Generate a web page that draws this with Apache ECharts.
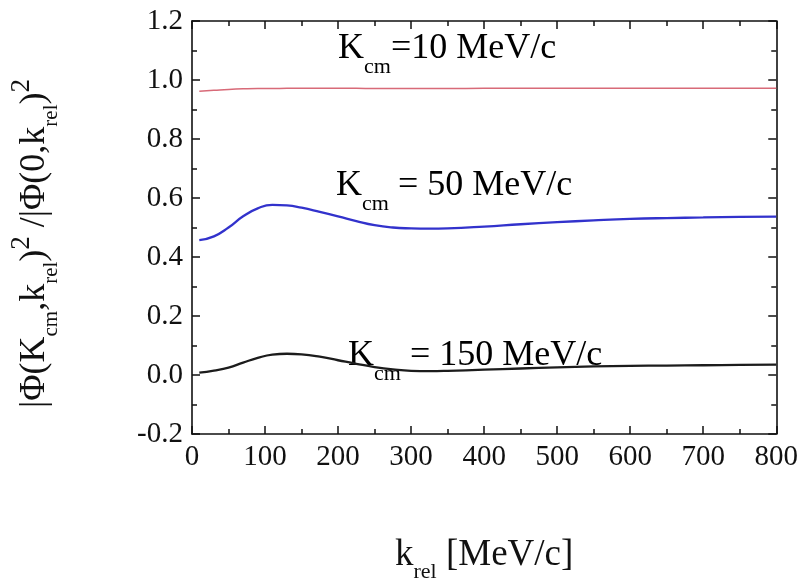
<!DOCTYPE html>
<html>
<head>
<meta charset="utf-8">
<script src="https://cdn.jsdelivr.net/npm/echarts@6/dist/echarts.min.js"></script>
<style>
  html, body { margin: 0; padding: 0; background: #fff; overflow: hidden; }
  #chart { width: 801px; height: 588px; }
</style>
</head>
<body>
<div id="chart"></div>
<script>
// relative momentum k_rel [MeV/c]
const kRel = [10, 30, 50, 70, 90, 110, 130, 150, 175, 200, 225, 250, 275, 300, 325, 350, 400, 450, 500, 550, 600, 650, 700, 750, 800];
// |Phi(K_cm,k_rel)|^2 / |Phi(0,k_rel)|^2 for three centre-of-mass momenta
const ratioK10 = [0.962, 0.965, 0.968, 0.970, 0.971, 0.971, 0.972, 0.972, 0.972, 0.972, 0.972, 0.971, 0.971, 0.971, 0.971, 0.971, 0.972, 0.972, 0.972, 0.972, 0.972, 0.972, 0.972, 0.972, 0.972];
const ratioK50 = [0.457, 0.470, 0.500, 0.538, 0.565, 0.577, 0.575, 0.567, 0.553, 0.538, 0.522, 0.508, 0.500, 0.497, 0.496, 0.497, 0.503, 0.511, 0.518, 0.524, 0.529, 0.532, 0.534, 0.536, 0.537];
const ratioK150 = [0.008, 0.015, 0.025, 0.042, 0.058, 0.069, 0.072, 0.070, 0.062, 0.050, 0.038, 0.027, 0.019, 0.014, 0.013, 0.014, 0.018, 0.022, 0.026, 0.029, 0.031, 0.032, 0.033, 0.034, 0.035];
// curve labels: [main, subscript, rest]
const curveLabels = [
  ['K', 'cm', '=10 MeV/c'],
  ['K', 'cm', ' = 50 MeV/c'],
  ['K', 'cm', ' = 150 MeV/c']
];

const serif = 'Liberation Serif';
const ink = '#111';
const chart = echarts.init(document.getElementById('chart'));

function pairs(ys) { return kRel.map((k, i) => [k, ys[i]]); }

function txt(size, lineHeight, align) {
  return { fontFamily: serif, fontSize: size, color: ink, lineHeight: lineHeight, verticalAlign: align };
}

const frameLine = { show: true, onZero: false, lineStyle: { color: ink, width: 1.6 } };
const tickIn = { show: true, inside: true, length: 8, lineStyle: { color: ink, width: 1.5 } };
const minorIn = { show: true, splitNumber: 2, length: 5, lineStyle: { color: ink, width: 1.5 } };

const xCommon = { type: 'value', min: 0, max: 800, interval: 100, axisLine: frameLine, axisTick: tickIn, minorTick: minorIn, splitLine: { show: false } };
const yCommon = { type: 'value', min: -0.2, max: 1.2, interval: 0.2, axisLine: frameLine, axisTick: tickIn, minorTick: minorIn, splitLine: { show: false } };

function curveText(lbl) {
  return {
    type: 'text',
    style: {
      text: '{m|' + lbl[0] + '}{s|' + lbl[1] + '}{m|' + lbl[2] + '}',
      rich: { m: txt(36, 58, 'middle'), s: txt(22, 58, 'bottom') }
    }
  };
}

// top-left corner of each curve label
const labelPos = [[338, 31], [336, 168], [348, 338]];

const tickLabel = { fontFamily: serif, fontSize: 29, color: ink };

chart.setOption({
  animation: false,
  backgroundColor: '#fff',
  grid: { left: 164, right: 21, top: 21, bottom: 117 },
  xAxis: [
    Object.assign({}, xCommon, {
      position: 'bottom',
      axisLabel: Object.assign({ margin: 9 }, tickLabel),
      name: '{k|k}{r|rel}{u| [MeV/c]}',
      nameLocation: 'middle',
      nameGap: 93,
      nameTextStyle: { rich: { k: txt(37, 56, 'middle'), r: txt(22, 56, 'bottom'), u: txt(37, 56, 'middle') } }
    }),
    Object.assign({}, xCommon, { position: 'top', axisLabel: { show: false } })
  ],
  yAxis: [
    Object.assign({}, yCommon, {
      position: 'left',
      axisLabel: Object.assign({ margin: 9, formatter: v => v.toFixed(1) }, tickLabel),
      name: '{m||Φ(K}{s|cm}{m|,k}{s|rel}{m|)}{p|2}{m| /|Φ(0,k}{s|rel}{m|)}{p|2}',
      nameLocation: 'middle',
      nameGap: 130,
      // extra space at the end of the rotated title moves it a little below the axis centre
      nameTextStyle: { padding: [0, 32, 0, 0], rich: { m: txt(36, 54, 'middle'), s: txt(21, 54, 'bottom'), p: txt(27, 54, 'top') } }
    }),
    Object.assign({}, yCommon, { position: 'right', axisLabel: { show: false } })
  ],
  series: [
    { type: 'line', data: pairs(ratioK10), smooth: true, showSymbol: false, lineStyle: { color: '#d86a78', width: 1.5 } },
    { type: 'line', data: pairs(ratioK50), smooth: true, showSymbol: false, lineStyle: { color: '#3232cc', width: 2.3 } },
    { type: 'line', data: pairs(ratioK150), smooth: true, showSymbol: false, lineStyle: { color: '#1c1c1c', width: 2.3 } }
  ],
  graphic: curveLabels.map((lbl, i) => Object.assign(curveText(lbl), { left: labelPos[i][0], top: labelPos[i][1] }))
});
</script>
</body>
</html>
